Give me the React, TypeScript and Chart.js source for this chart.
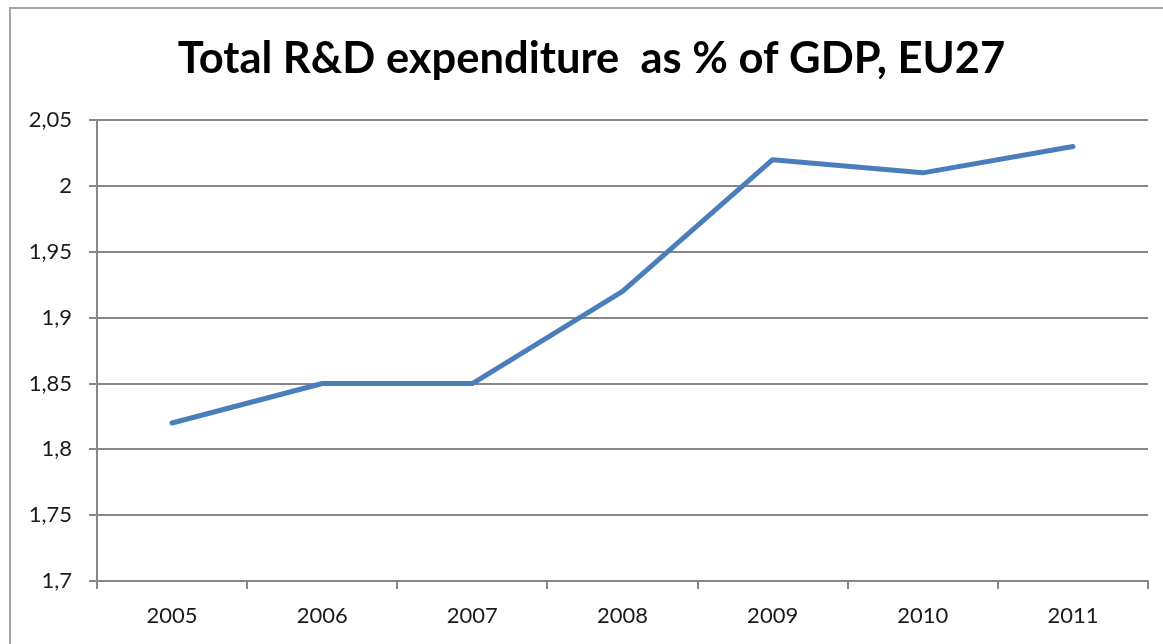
import React, { useEffect, useRef } from "react";
import { Chart, registerables } from "chart.js";

Chart.register(...registerables);

const titleText = "Total R&D expenditure  as % of GDP, EU27";
const years = ["2005", "2006", "2007", "2008", "2009", "2010", "2011"];
const rdShare = [1.82, 1.85, 1.85, 1.92, 2.02, 2.01, 2.03];
const yTickValues = [1.7, 1.75, 1.8, 1.85, 1.9, 1.95, 2.0, 2.05];
const yTickLabels = ["1,7", "1,75", "1,8", "1,85", "1,9", "1,95", "2", "2,05"];

const FONT = "Lato, 'Open Sans', sans-serif";

const framePlugin = {
  id: "frame",
  afterLayout(chart: any) {
    const tb = chart.titleBlock;
    if (tb) {
      tb.left = 35;
      tb.right = chart.width - 15;
    }
  },
  beforeDraw(chart: any) {
    const ctx = chart.ctx;
    ctx.save();
    ctx.fillStyle = "#ffffff";
    ctx.fillRect(0, 0, chart.width, chart.height);
    ctx.strokeStyle = "#a6a6a6";
    ctx.lineWidth = 2;
    ctx.strokeRect(10, 8, chart.width + 20, chart.height + 20);
    ctx.restore();
  },
};

export default function App() {
  const ref = useRef<HTMLCanvasElement | null>(null);
  useEffect(() => {
    if (!ref.current) return;
    const chart = new Chart(ref.current, {
      type: "line",
      data: {
        labels: years,
        datasets: [
          {
            data: rdShare,
            borderColor: "#4a7ebb",
            borderWidth: 5,
            pointRadius: 0,
            tension: 0,
            borderCapStyle: "round",
            borderJoinStyle: "round",
          },
        ],
      },
      plugins: [framePlugin],
      options: {
        animation: false,
        responsive: true,
        maintainAspectRatio: false,
        layout: { padding: { left: 0, right: 15, top: 0, bottom: 0 } },
        plugins: {
          legend: { display: false },
          tooltip: { enabled: false },
          title: {
            display: true,
            text: titleText,
            color: "#000000",
            font: { family: FONT, size: 43.5, weight: "bold", lineHeight: 1.2 },
            padding: { top: 33, bottom: 35 },
          },
        },
        scales: {
          x: {
            offset: true,
            afterFit: (s: any) => {
              s.height = 63;
            },
            grid: {
              offset: true,
              drawOnChartArea: false,
              drawTicks: true,
              tickLength: 8,
              color: "#878787",
              lineWidth: 2,
            },
            border: { color: "#878787", width: 2 },
            ticks: {
              color: "#1a1a1a",
              font: { family: FONT, size: 22 },
              padding: 14,
              maxRotation: 0,
            },
          },
          y: {
            min: 1.7,
            max: 2.05,
            afterFit: (s: any) => {
              s.width = 97;
            },
            afterBuildTicks: (s: any) => {
              s.ticks = yTickValues.map((v) => ({ value: v }));
            },
            grid: {
              color: "#878787",
              lineWidth: 2,
              tickLength: 8,
            },
            border: { color: "#878787", width: 2 },
            ticks: {
              color: "#1a1a1a",
              font: { family: FONT, size: 22 },
              padding: 17,
              callback: (v: any) => {
                const i = yTickValues.findIndex((t) => Math.abs(t - Number(v)) < 1e-6);
                return i >= 0 ? yTickLabels[i] : "";
              },
            },
          },
        },
      },
    } as any);
    return () => chart.destroy();
  }, []);
  return (
    <div style={{ position: "absolute", left: 0, top: 0, width: 1163, height: 644 }}>
      <canvas ref={ref} />
    </div>
  );
}
